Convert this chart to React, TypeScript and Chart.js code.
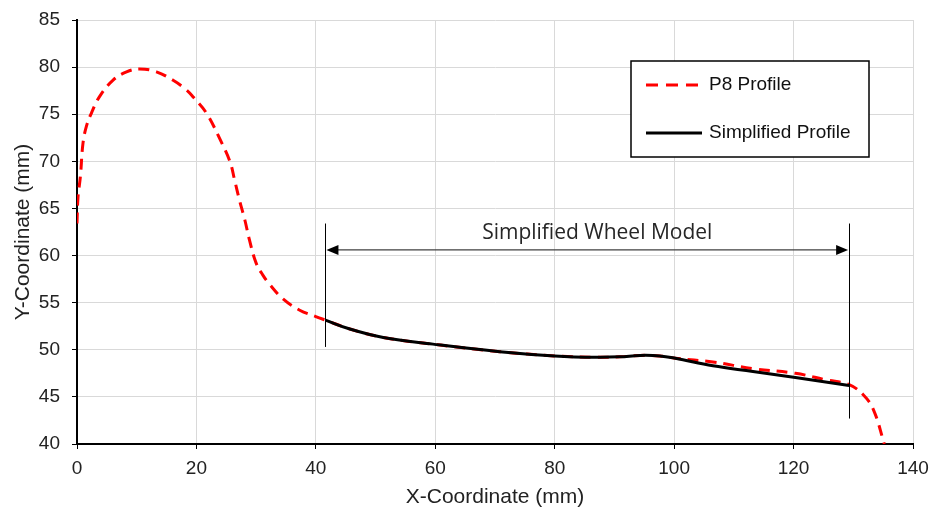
import React, { useEffect, useRef } from "react";
import { Chart, registerables } from "chart.js";

Chart.register(...registerables);

// P8 profile (red dashed)
const p8X = [0, 0.17, 0.57, 1.0, 1.57, 2.4, 3.8, 6.0, 8.3, 10.5, 13.3, 16.1, 18.3, 19.5, 21.7, 23.9, 25.6, 26.4, 27.2, 28.1, 28.9, 30.0, 31.1, 32.3, 34.5, 37.3, 40.1, 41.6, 45.7, 51.3, 59.6, 70.8, 80, 87, 90.9, 94.3, 97.6, 100.2, 106.5, 113.2, 120.3, 125.5, 129.3, 131.7, 133.4, 135.2];
const p8Y = [63.4, 66.2, 68.4, 71.9, 73.7, 75.1, 76.9, 78.6, 79.5, 79.8, 79.5, 78.6, 77.6, 76.8, 75.1, 72.4, 70.0, 68.0, 65.9, 63.8, 61.6, 59.2, 57.95, 56.9, 55.4, 54.2, 53.5, 53.15, 52.2, 51.3, 50.6, 49.8, 49.35, 49.2, 49.25, 49.4, 49.35, 49.1, 48.7, 48.0, 47.5, 46.8, 46.3, 45.2, 43.6, 40.0];

// Simplified profile (black solid)
const simpX = [41.6, 45.7, 51.3, 59.6, 70.8, 80, 87, 90.9, 94.3, 97.6, 100.2, 106.5, 113.2, 120.3, 129.3];
const simpY = [53.15, 52.2, 51.3, 50.6, 49.8, 49.35, 49.2, 49.25, 49.4, 49.35, 49.1, 48.3, 47.7, 47.05, 46.2];

const seriesNames = ["P8 Profile", "Simplified Profile"];
const xTicks = [0, 20, 40, 60, 80, 100, 120, 140];
const yTicks = [40, 45, 50, 55, 60, 65, 70, 75, 80, 85];

// Annotation (data coordinates)
const modelLabel = "Simplified Wheel Model";
const modelStartX = 41.6;
const modelEndX = 129.3;
const modelArrowY = 60.6;
const leftBarY = [50.3, 63.4];
const rightBarY = [42.7, 63.4];

const annotationPlugin = {
  id: "wheelAnnot",
  afterDatasetsDraw(chart: any) {
    const { ctx, scales } = chart;
    const xs = scales.x, ys = scales.y;
    const x1 = xs.getPixelForValue(modelStartX);
    const x2 = xs.getPixelForValue(modelEndX);
    const ya = ys.getPixelForValue(modelArrowY);
    ctx.save();
    // vertical bars
    ctx.strokeStyle = "#000";
    ctx.lineWidth = 1;
    ctx.beginPath();
    ctx.moveTo(Math.round(x1) + 0.5, ys.getPixelForValue(leftBarY[0]));
    ctx.lineTo(Math.round(x1) + 0.5, ys.getPixelForValue(leftBarY[1]));
    ctx.moveTo(Math.round(x2) + 0.5, ys.getPixelForValue(rightBarY[0]));
    ctx.lineTo(Math.round(x2) + 0.5, ys.getPixelForValue(rightBarY[1]));
    ctx.stroke();
    // arrow line
    const head = 12;
    ctx.strokeStyle = "#404040";
    ctx.lineWidth = 1.3;
    ctx.beginPath();
    ctx.moveTo(x1 + head, ya);
    ctx.lineTo(x2 - head, ya);
    ctx.stroke();
    ctx.fillStyle = "#000";
    ctx.beginPath();
    ctx.moveTo(x1 + 1, ya);
    ctx.lineTo(x1 + 1 + head, ya - 5);
    ctx.lineTo(x1 + 1 + head, ya + 5);
    ctx.closePath();
    ctx.fill();
    ctx.beginPath();
    ctx.moveTo(x2 - 1, ya);
    ctx.lineTo(x2 - 1 - head, ya - 5);
    ctx.lineTo(x2 - 1 - head, ya + 5);
    ctx.closePath();
    ctx.fill();
    // label
    ctx.font = "21px 'Open Sans', sans-serif";
    ctx.fillStyle = "#262626";
    ctx.textAlign = "center";
    ctx.textBaseline = "alphabetic";
    ctx.fillText(modelLabel, (x1 + x2) / 2 + 10, ya - 11);

    // legend box
    const ca = chart.chartArea;
    const bx = ca.left + 554, by = ca.top + 41, bw = 238, bh = 96;
    ctx.fillStyle = "#fff";
    ctx.fillRect(bx, by, bw, bh);
    ctx.strokeStyle = "#000";
    ctx.lineWidth = 1.5;
    ctx.strokeRect(bx, by, bw, bh);
    const items = [
      { name: seriesNames[0], color: "#ff0000", dash: [12, 8] },
      { name: seriesNames[1], color: "#000000", dash: [] as number[] },
    ];
    items.forEach((it, i) => {
      const yy = by + 24 + i * 48;
      ctx.strokeStyle = it.color;
      ctx.lineWidth = 3;
      ctx.setLineDash(it.dash);
      ctx.beginPath();
      ctx.moveTo(bx + 15, yy);
      ctx.lineTo(bx + 71, yy);
      ctx.stroke();
      ctx.setLineDash([]);
      ctx.fillStyle = "#111";
      ctx.font = "19px 'Liberation Sans', Arial, sans-serif";
      ctx.textAlign = "left";
      ctx.textBaseline = "middle";
      ctx.fillText(it.name, bx + 78, yy);
    });
    ctx.restore();
  },
};

export default function App() {
  const ref = useRef<HTMLCanvasElement>(null);
  useEffect(() => {
    if (!ref.current) return;
    const tickFont = { family: "'Liberation Sans', Arial, sans-serif", size: 19 };
    const titleFont = { family: "'Liberation Sans', Arial, sans-serif", size: 21 };
    const chart = new Chart(ref.current, {
      type: "line",
      data: {
        datasets: [
          {
            label: seriesNames[1],
            data: simpX.map((x, i) => ({ x, y: simpY[i] })),
            borderColor: "#000000",
            borderWidth: 3,
            pointRadius: 0,
            tension: 0.4,
            order: 0,
          },
          {
            label: seriesNames[0],
            data: p8X.map((x, i) => ({ x, y: p8Y[i] })),
            borderColor: "#ff0000",
            borderWidth: 3,
            borderDash: [11, 7],
            pointRadius: 0,
            tension: 0.4,
            order: 1,
          },
        ],
      },
      options: {
        responsive: false,
        animation: false,
        layout: { padding: { top: 20, right: 22, left: 0, bottom: 0 } },
        plugins: { legend: { display: false }, tooltip: { enabled: false } },
        scales: {
          x: {
            type: "linear",
            min: 0,
            max: 140,
            afterBuildTicks: (s: any) => { s.ticks = xTicks.map((v) => ({ value: v })); },
            afterFit: (s: any) => { s.height = 67; s.paddingLeft = 0; s.paddingRight = 0; },
            grid: { color: "#d9d9d9", lineWidth: 1, tickLength: 5, tickColor: "#000" },
            border: { color: "#000", width: 2 },
            ticks: { color: "#222", font: tickFont, padding: 8, maxRotation: 0 },
            title: { display: true, text: "X-Coordinate (mm)", color: "#222", font: titleFont, padding: { top: 0, bottom: 1 } },
          },
          y: {
            type: "linear",
            min: 40,
            max: 85,
            afterBuildTicks: (s: any) => { s.ticks = yTicks.map((v) => ({ value: v })); },
            afterFit: (s: any) => { s.width = 77; s.paddingTop = 0; s.paddingBottom = 0; },
            grid: { color: "#d9d9d9", lineWidth: 1, tickLength: 5, tickColor: "#000" },
            border: { color: "#000", width: 2 },
            ticks: { color: "#222", font: tickFont, padding: 12 },
            title: { display: true, text: "Y-Coordinate (mm)", color: "#222", font: titleFont, padding: { top: 11, bottom: 0 } },
          },
        },
      },
      plugins: [annotationPlugin],
    } as any);
    return () => chart.destroy();
  }, []);
  return (
    <div style={{ position: "absolute", left: 0, top: 0, width: 935, height: 511, background: "#fff" }}>
      <canvas ref={ref} width={935} height={511} />
    </div>
  );
}
